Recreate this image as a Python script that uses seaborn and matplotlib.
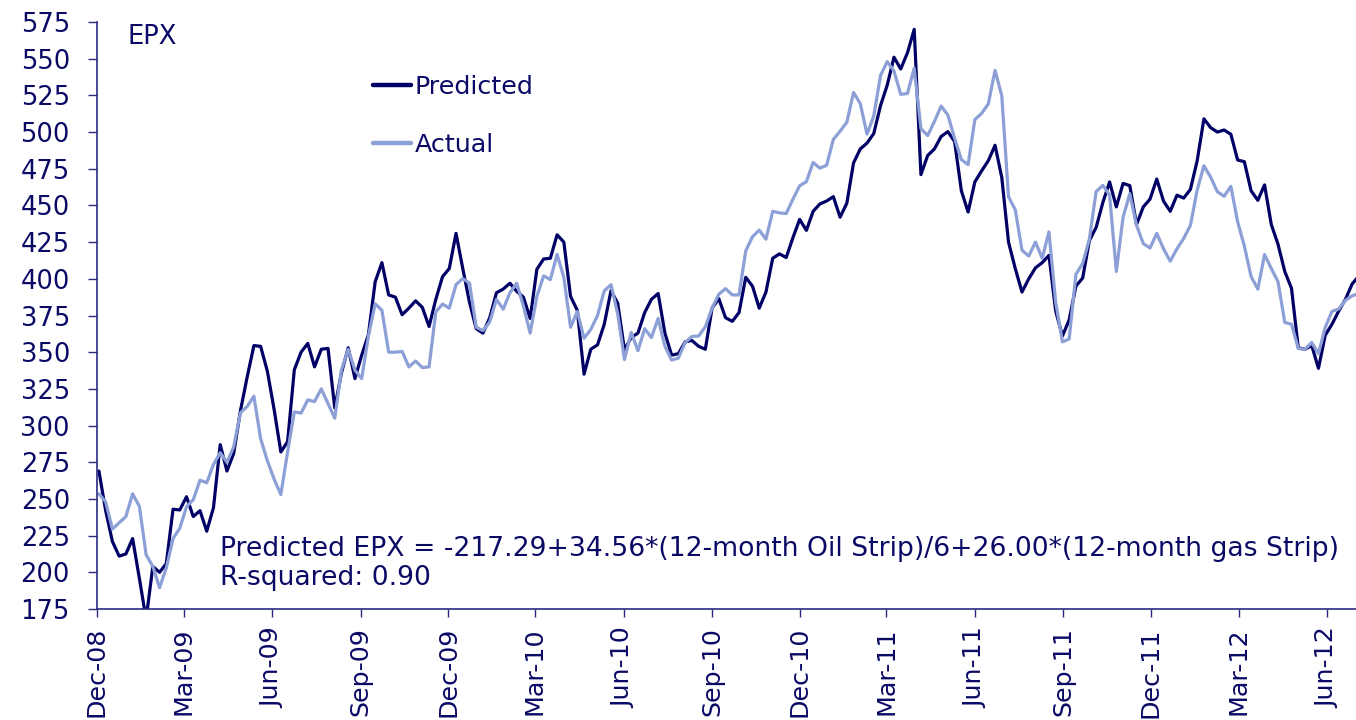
import pandas as pd
import numpy as np
import seaborn as sns
import matplotlib.pyplot as plt
import matplotlib.dates as mdates

# weekly observations, Dec-2008 .. Jun-2012
dates = pd.date_range("2008-12-03", periods=188, freq="7D")

predicted = [
    269, 242, 221, 211, 212.5, 223, 196, 168, 204, 200,
    206, 243, 242.5, 251.5, 238, 242, 228, 244, 287, 269,
    281, 310, 333, 354.5, 354, 337, 311, 282, 289, 338,
    350, 356, 340, 352, 352.6, 312, 336, 353, 332, 348,
    362, 398, 411, 389, 387.5, 375.5, 380, 385, 380.5, 367.5,
    386, 401.5, 407, 431, 407, 384, 366, 363, 373.5, 390.5,
    393, 397, 391.5, 387.5, 373, 406.5, 413.5, 414, 430, 425,
    388, 378.5, 335, 352, 355, 369, 392, 383.3, 351.5, 360,
    363, 377, 386, 390, 363, 348, 349, 357, 358, 354,
    352, 380, 386.5, 373.5, 371, 377, 401, 395, 380, 391,
    414, 417, 414.5, 428, 440.5, 433, 446, 451, 453, 456,
    442, 451.5, 479, 488.5, 492.5, 499, 518, 532, 551, 543,
    554, 570, 471, 484, 488.5, 497, 500.3, 493.5, 460, 445.5,
    466, 473.5, 480.5, 491, 469, 425, 407, 391, 400, 407.5,
    411, 416, 378, 361, 372, 395, 400.5, 426, 435, 452,
    466, 449, 465, 463.5, 437, 449, 454.3, 468, 453, 446,
    457, 455, 461, 480.5, 509, 503, 500, 501.4, 498.5, 481,
    479.8, 460, 453.5, 464, 437, 423.5, 405, 393.5, 353, 352,
    354.5, 339, 361.5, 369, 378, 386, 396.5, 402,
]

actual = [
    253.5, 248, 229.5, 233.7, 238, 253.5, 245, 212, 204, 189.5,
    203, 223, 230, 244.7, 249.5, 262.8, 261, 273.5, 281.5, 275,
    285.5, 308.7, 313, 320, 291, 276, 263.5, 253, 282, 309.3,
    308.5, 317.5, 316.3, 325, 315, 305, 338, 352, 337.7, 332,
    361, 383, 378.5, 350, 350, 350.5, 340, 344, 339.5, 340,
    377.5, 382.8, 380, 396, 400.2, 397, 367, 364.7, 370.6, 386,
    379.3, 390.5, 397, 381.5, 363, 388, 402, 399.5, 416.7, 401,
    367, 377.7, 359.5, 365.5, 375, 391.8, 396, 376, 345, 363.5,
    351, 366, 360, 373, 354, 344.6, 346, 356.5, 360.7, 361,
    367.3, 380, 389.5, 393.3, 389, 389, 419, 428.7, 433.2, 427,
    446, 444.9, 444.5, 454.2, 463.4, 466.2, 479.3, 475.4, 477.4, 495,
    500.6, 506.7, 527, 519.3, 498.6, 511, 538.5, 548, 541.6, 525.7,
    526.3, 543.5, 502.3, 497.6, 507.2, 517.7, 511.6, 495.7, 481.3, 477.8,
    508.5, 512.7, 519.2, 542, 524.7, 456, 447, 419.5, 415.5, 425,
    414, 432, 384, 357, 359, 403, 410.5, 427, 459.4, 463.7,
    457, 405, 442, 458, 436.5, 424, 421, 431, 420.5, 412,
    420.5, 427.5, 436.5, 460.5, 477, 469.3, 459.3, 456.3, 463, 439,
    422.3, 401.6, 393, 416.5, 407, 398, 370.3, 369, 352.5, 352,
    356.6, 349, 366.8, 377.8, 379.4, 385.3, 388.4, 390,
]

y_ticks = list(range(175, 576, 25))
series_names = ["Predicted", "Actual"]
colors = {"Predicted": "#000066", "Actual": "#8C9FD6"}
text_color = "#0A0A66"
axis_color = "#2A2A80"

df = pd.DataFrame({
    "date": list(dates) * 2,
    "value": predicted + actual,
    "series": ["Predicted"] * len(dates) + ["Actual"] * len(dates),
})

sns.set_style("white")
plt.rcParams["font.family"] = ["DejaVu Sans"]

fig = plt.figure(figsize=(13.56, 7.2), dpi=100)
ax = fig.add_axes([97 / 1356, 111 / 720, 1259 / 1356, 587 / 720])

sns.lineplot(data=df, x="date", y="value", hue="series", hue_order=series_names,
             palette=colors, linewidth=2.3, ax=ax)
for line in ax.get_lines():
    line.set_solid_joinstyle("round")

ax.set_ylim(175, 575)
ax.set_yticks(y_ticks)
ax.set_xlim(pd.Timestamp("2008-12-01"), pd.Timestamp("2012-07-01"))
ax.xaxis.set_major_locator(mdates.MonthLocator(bymonth=[3, 6, 9, 12]))
ax.xaxis.set_major_formatter(mdates.DateFormatter("%b-%y"))
ax.set_xlabel("")
ax.set_ylabel("")

for side in ["top", "right"]:
    ax.spines[side].set_visible(False)
for side in ["left", "bottom"]:
    ax.spines[side].set_color(axis_color)
    ax.spines[side].set_linewidth(1.2)

ax.tick_params(axis="y", direction="out", length=6.5, width=1, color=axis_color,
               labelsize=18.5, labelcolor=text_color, pad=13, left=True)
ax.tick_params(axis="x", direction="out", length=6, width=1, color=axis_color,
               labelsize=18.3, labelcolor=text_color, pad=7, bottom=True)
plt.setp(ax.get_xticklabels(), rotation=90, va="top", ha="center")

handles, labels = ax.get_legend_handles_labels()
leg = ax.legend(handles, labels, loc="upper left", bbox_to_anchor=(373 / 1356, 1 - 75 / 720),
                bbox_transform=fig.transFigure, frameon=False, fontsize=18.3,
                handlelength=1.5, handletextpad=0.15, labelspacing=1.35,
                borderpad=0, borderaxespad=0)
for line in leg.get_lines():
    line.set_linewidth(3.2)
for t in leg.get_texts():
    t.set_color(text_color)

fig.text(128 / 1356, 1 - 37 / 720, "EPX", fontsize=18.5, color=text_color, va="center", ha="left")
fig.text(220 / 1356, 1 - 549 / 720,
         "Predicted EPX = -217.29+34.56*(12-month Oil Strip)/6+26.00*(12-month gas Strip)",
         fontsize=19.2, color=text_color, va="center", ha="left")
fig.text(220 / 1356, 1 - 578 / 720, "R-squared: 0.90",
         fontsize=19.2, color=text_color, va="center", ha="left")

fig.savefig("out.png", dpi=100)
